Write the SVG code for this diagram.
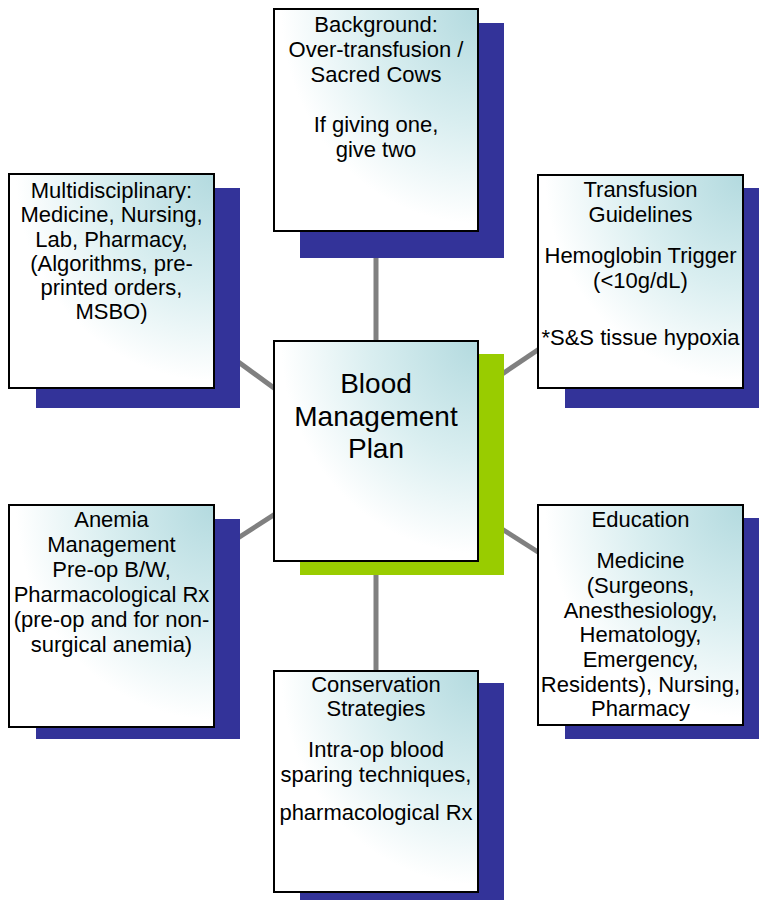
<svg xmlns="http://www.w3.org/2000/svg" width="759" height="900" viewBox="0 0 759 900">
<defs>
<radialGradient id="fill" gradientUnits="objectBoundingBox" cx="1" cy="0" r="1.05">
<stop offset="0" stop-color="#b3dadf"/>
<stop offset="0.5" stop-color="#d9eef0"/>
<stop offset="0.92" stop-color="#ffffff"/>
</radialGradient>
<style>
.sh{fill:#333399}
.shg{fill:#99cc00}
.box{fill:url(#fill);stroke:#000;stroke-width:2}
.conn line{stroke:#808080;stroke-width:5}
text{font-family:"Liberation Sans",Arial,sans-serif;font-size:22px;fill:#000;text-anchor:middle}
.big{font-size:28px}
</style>
</defs>
<rect width="759" height="900" fill="#fff"/>
<g id="connectors" class="conn">
<line x1="376" y1="220" x2="376" y2="360"/>
<line x1="376" y1="550" x2="376" y2="690"/>
<line x1="200" y1="334" x2="300" y2="407"/>
<line x1="480" y1="389" x2="560" y2="335"/>
<line x1="210" y1="556" x2="300" y2="498"/>
<line x1="480" y1="515" x2="560" y2="566"/>
</g>
<g id="background">
<rect class="sh" x="300" y="23" width="204" height="235"/>
<rect class="box" x="274" y="9" width="204" height="222"/>
<text x="376" y="32">Background:</text>
<text x="376" y="57">Over-transfusion /</text>
<text x="376" y="82">Sacred Cows</text>
<text x="376" y="132">If giving one,</text>
<text x="376" y="157">give two</text>
</g>
<g id="multidisciplinary">
<rect class="sh" x="36" y="188" width="204" height="220"/>
<rect class="box" x="9" y="174" width="205" height="214"/>
<text x="111.5" y="198">Multidisciplinary:</text>
<text x="111.5" y="222">Medicine, Nursing,</text>
<text x="111.5" y="247">Lab, Pharmacy,</text>
<text x="111.5" y="271">(Algorithms, pre-</text>
<text x="111.5" y="295">printed orders,</text>
<text x="111.5" y="319">MSBO)</text>
</g>
<g id="transfusion">
<rect class="sh" x="565" y="188" width="210" height="220"/>
<rect class="box" x="538" y="175" width="205" height="213"/>
<text x="640.5" y="197">Transfusion</text>
<text x="640.5" y="222">Guidelines</text>
<text x="640.5" y="263">Hemoglobin Trigger</text>
<text x="640.5" y="288">(&lt;10g/dL)</text>
<text x="640.5" y="345">*S&amp;S tissue hypoxia</text>
</g>
<g id="center">
<rect class="shg" x="300" y="354" width="204" height="221"/>
<rect class="box" x="274" y="341" width="204" height="220"/>
<text class="big" x="376" y="393">Blood</text>
<text class="big" x="376" y="426">Management</text>
<text class="big" x="376" y="458">Plan</text>
</g>
<g id="anemia">
<rect class="sh" x="36" y="519" width="204" height="220"/>
<rect class="box" x="9" y="505" width="205" height="222"/>
<text x="111.5" y="527">Anemia</text>
<text x="111.5" y="552">Management</text>
<text x="111.5" y="577">Pre-op B/W,</text>
<text x="111.5" y="602">Pharmacological Rx</text>
<text x="111.5" y="627">(pre-op and for non-</text>
<text x="111.5" y="652">surgical anemia)</text>
</g>
<g id="education">
<rect class="sh" x="565" y="518" width="210" height="221"/>
<rect class="box" x="538" y="505" width="205" height="220"/>
<text x="640.5" y="527">Education</text>
<text x="640.5" y="568">Medicine</text>
<text x="640.5" y="593">(Surgeons,</text>
<text x="640.5" y="618">Anesthesiology,</text>
<text x="640.5" y="642">Hematology,</text>
<text x="640.5" y="667">Emergency,</text>
<text x="640.5" y="692">Residents), Nursing,</text>
<text x="640.5" y="716">Pharmacy</text>
</g>
<g id="conservation">
<rect class="sh" x="300" y="683" width="204" height="230"/>
<rect class="box" x="274" y="671" width="204" height="221"/>
<text x="376" y="692">Conservation</text>
<text x="376" y="716">Strategies</text>
<text x="376" y="757">Intra-op blood</text>
<text x="376" y="782">sparing techniques,</text>
<text x="376" y="820">pharmacological Rx</text>
</g>
</svg>
